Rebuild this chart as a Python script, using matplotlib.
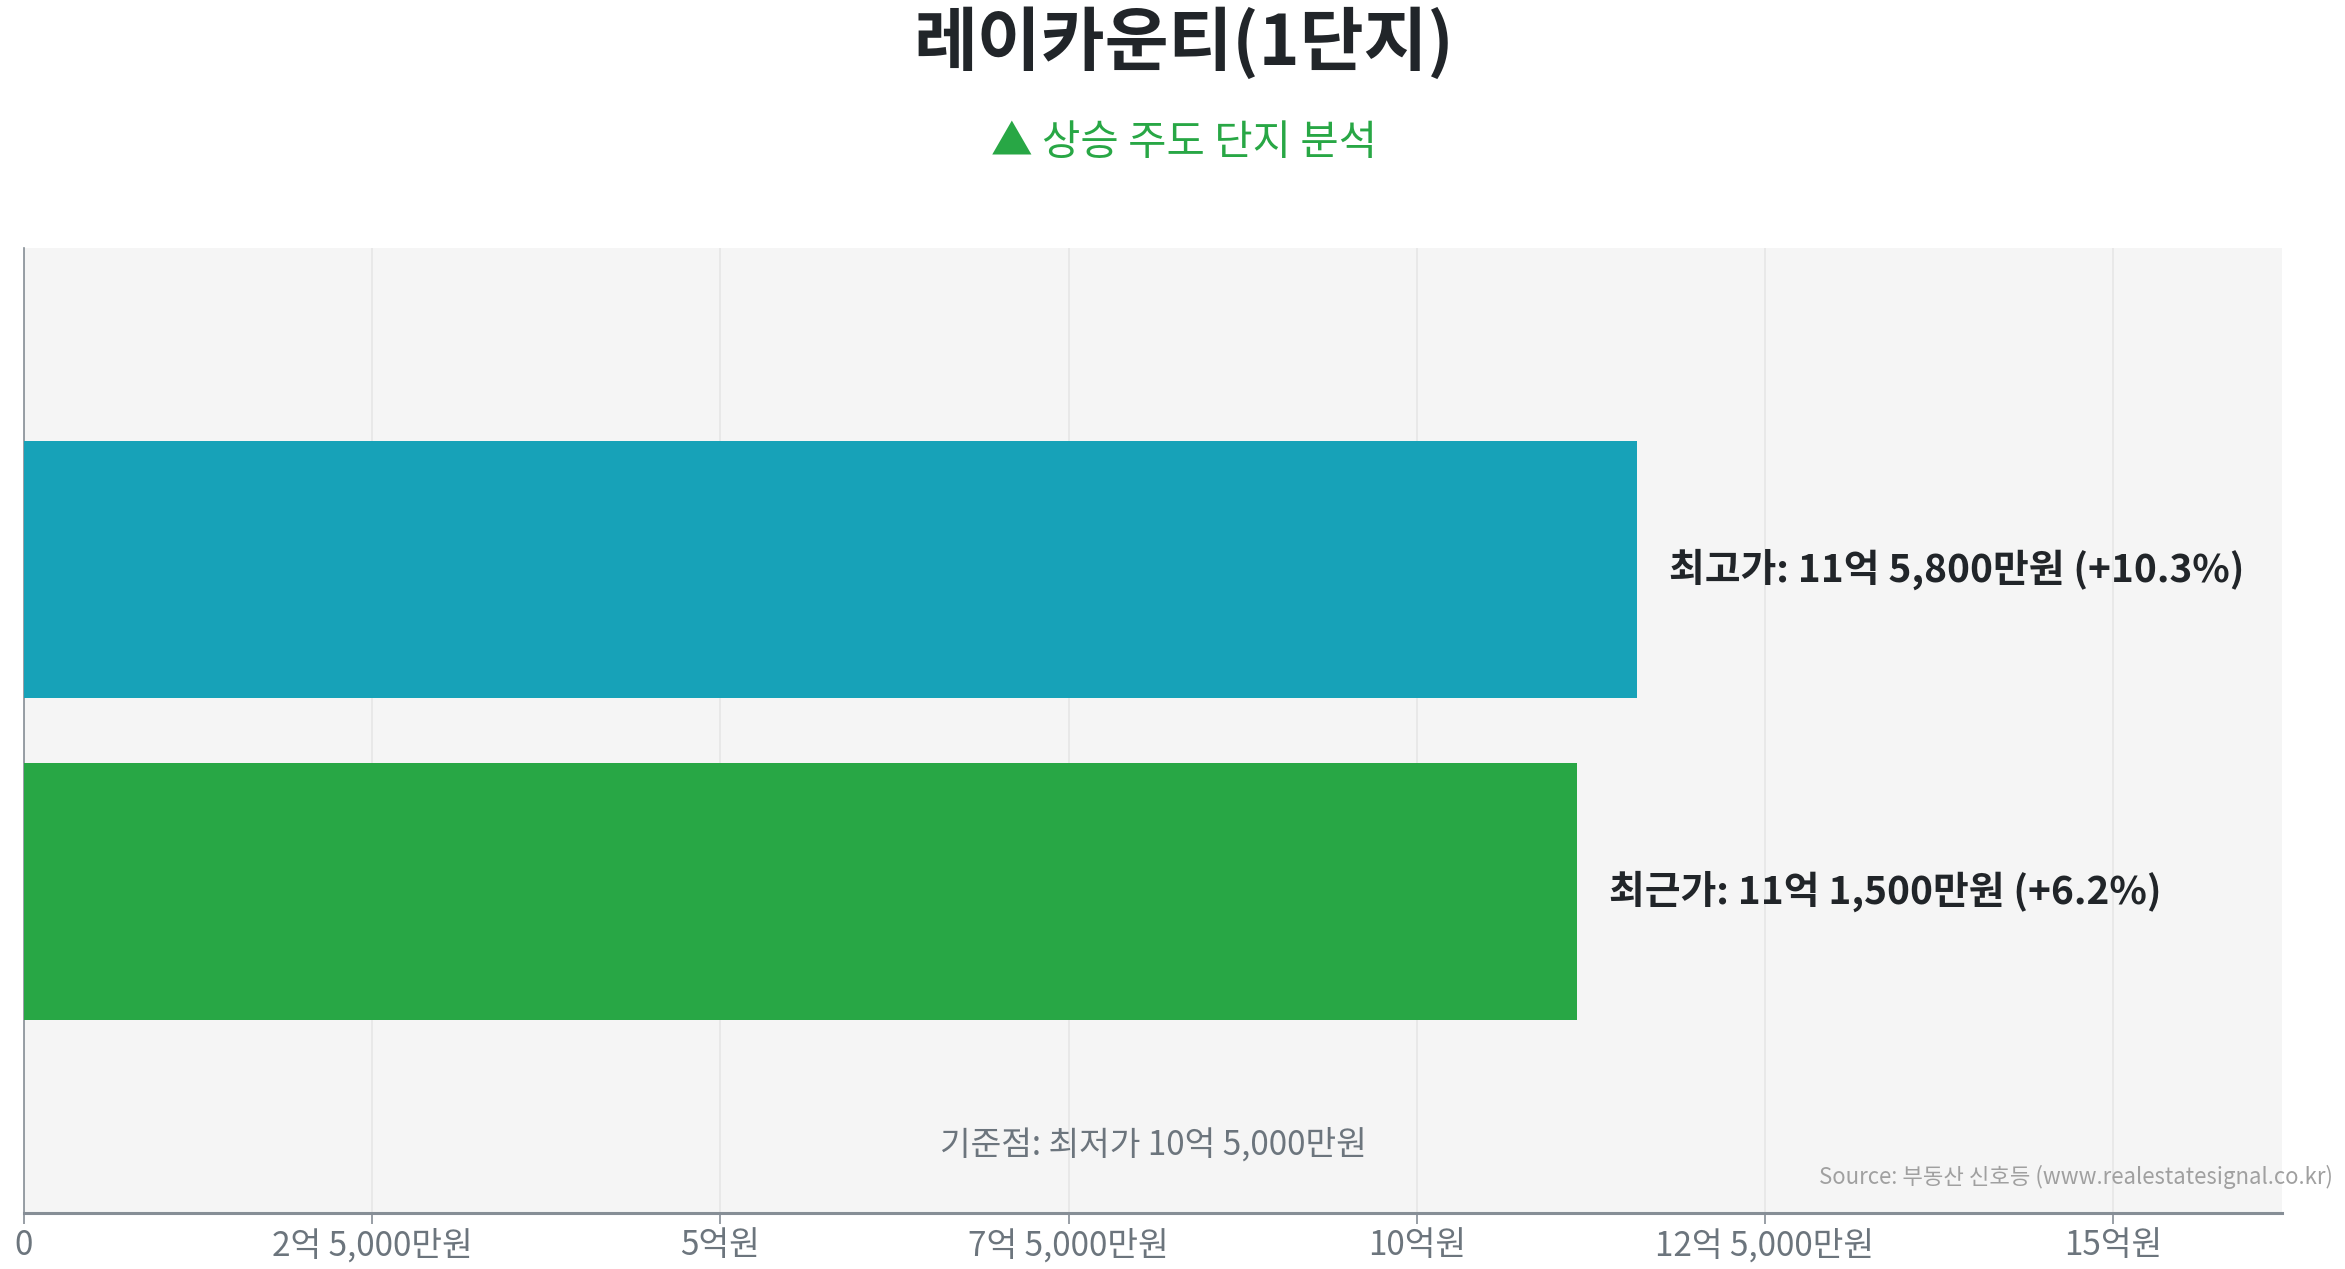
import matplotlib
matplotlib.use("Agg")
import matplotlib.pyplot as plt

plt.rcParams['font.family'] = ['Noto Sans CJK KR', 'DejaVu Sans']

## Data (단위: 억원)
categories = ['최고가', '최근가']
values = [11.58, 11.15]
base_price = 10.5
bar_colors = ['#17a2b8', '#28a745']
tick_values = [0, 2.5, 5, 7.5, 10, 12.5, 15]
tick_labels = ['0', '2억 5,000만원', '5억원', '7억 5,000만원', '10억원', '12억 5,000만원', '15억원']


def fmt_price(v):
    man = int(round(v * 10000))
    eok, rest = divmod(man, 10000)
    if rest == 0:
        return f"{eok}억원"
    return f"{eok}억 {rest:,}만원"


fig = plt.figure(figsize=(23.45, 12.69), dpi=100)
ax = fig.add_axes([0.0102, 0.0441, 0.9629, 0.7605])
ax.set_facecolor('#f5f5f5')

ypos = list(range(len(categories)))
ax.barh(ypos, values, height=0.8, color=bar_colors, zorder=3)
ax.set_ylim(2, -1)
ax.set_xlim(0, max(values) * 1.4)

# bar labels
for y, cat, v in zip(ypos, categories, values):
    pct = (v - base_price) / base_price * 100
    ax.annotate(f"{cat}: {fmt_price(v)} (+{pct:.1f}%)", xy=(v, y), xytext=(23, 0),
                textcoords='offset points', va='center', ha='left',
                fontsize=28, fontweight='bold', color='#212529', zorder=4)

ax.set_xticks(tick_values)
ax.set_xticklabels(tick_labels)
ax.set_yticks([])
ax.tick_params(axis='x', length=8, width=1.2, color='#868e96', labelsize=24,
               labelcolor='#6c757d', pad=3)
ax.grid(axis='x', color='#e6e6e6', linewidth=1.2, zorder=0)

for s in ['top', 'right']:
    ax.spines[s].set_visible(False)
ax.spines['left'].set_color('#868e96')
ax.spines['left'].set_linewidth(1.2)
ax.spines['bottom'].set_color('#868e96')
ax.spines['bottom'].set_linewidth(2.2)

ax.text(0.5, 0.07, f"기준점: 최저가 {fmt_price(base_price)}", transform=ax.transAxes,
        ha='center', va='center', fontsize=24, color='#6c757d', zorder=4)

fig.text(0.505, 0.966, "레이카운티(1단지)", ha='center', va='center',
         fontsize=50, fontweight='bold', color='#212529')
fig.text(0.505, 0.887, "▲ 상승 주도 단지 분석", ha='center', va='center',
         fontsize=30, color='#28a745')
fig.text(0.995, 0.0725, "Source: 부동산 신호등 (www.realestatesignal.co.kr)",
         ha='right', va='center', fontsize=16, color='#a0a0a0')

fig.savefig('out.png', dpi=100)
